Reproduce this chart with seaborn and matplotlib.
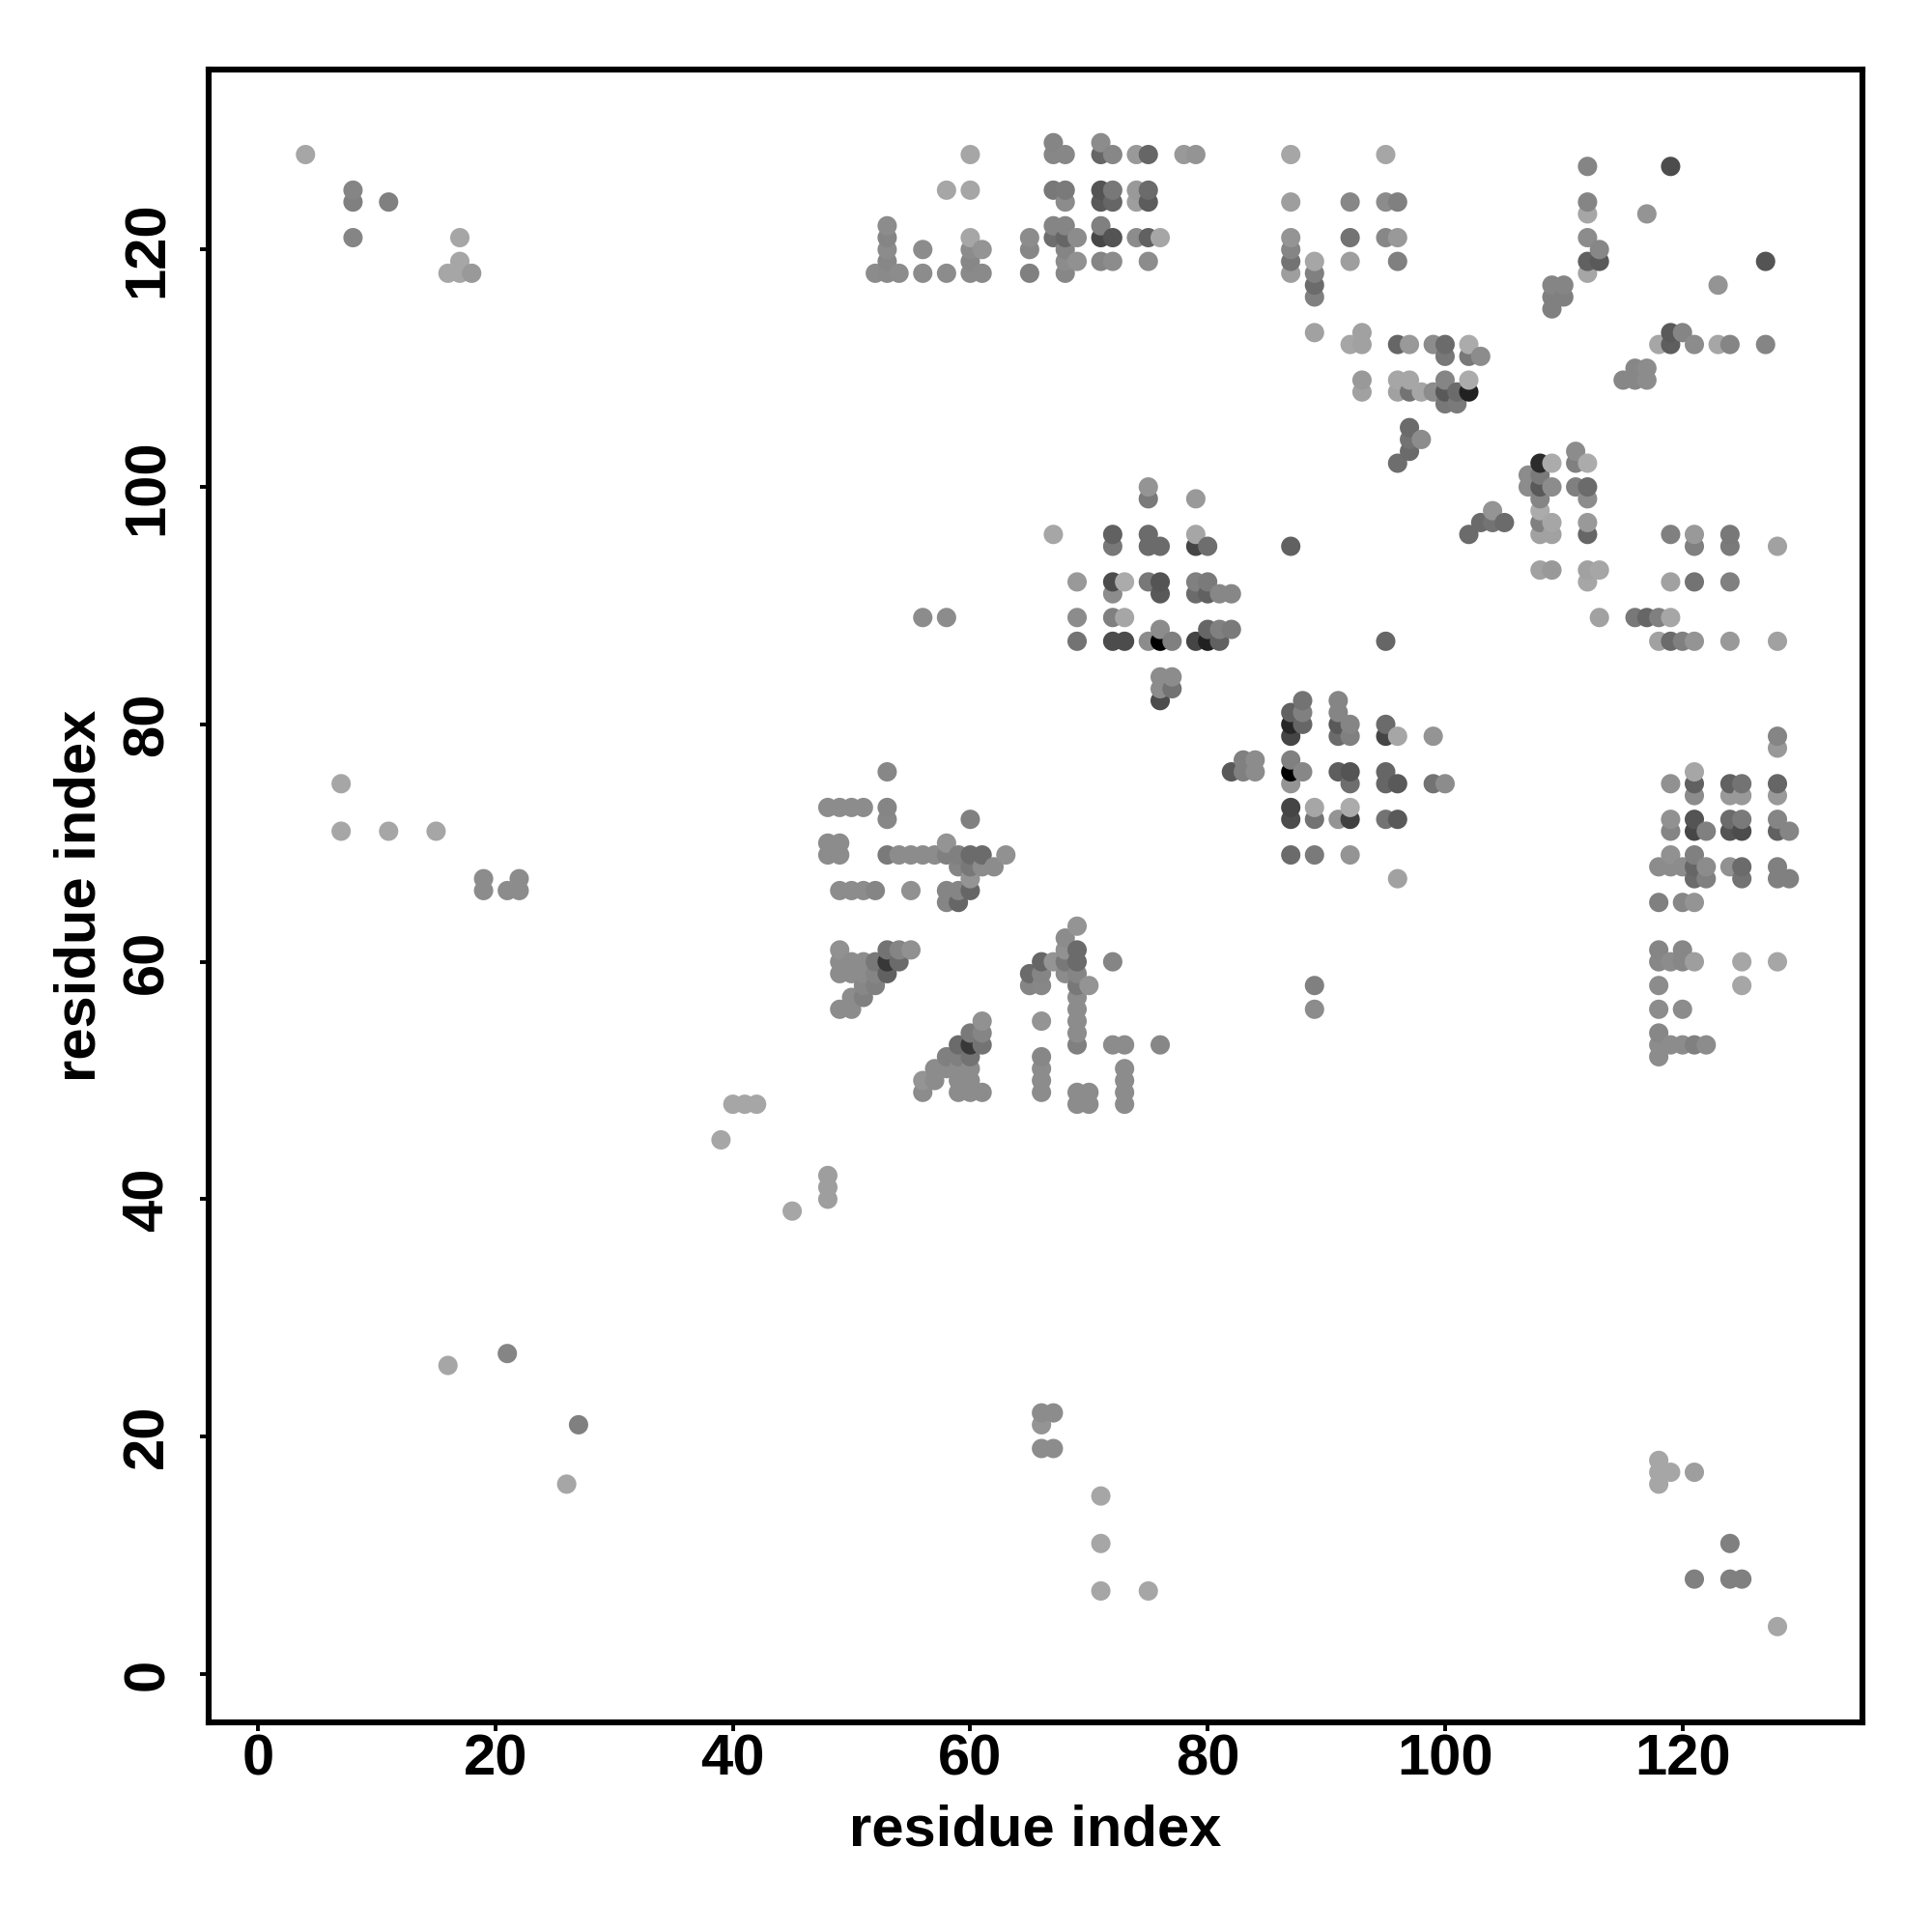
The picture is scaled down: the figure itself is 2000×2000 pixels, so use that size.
import matplotlib
matplotlib.use("Agg")
import matplotlib.pyplot as plt
import pandas as pd
import seaborn as sns

# Each tuple: residue x, residue y, grey level (0 black .. 1 white)
sparse_far = [(4,128,.65),(8,125,.52),(8,124,.5),(8,121,.52),(11,124,.5),(17,121,.65),(17,119,.65),(16,118,.65),(17,118,.65),(18,118,.6),
    (7,75,.65),(7,71,.65),(11,71,.65),(15,71,.65),(19,67,.55),(19,66,.55),(21,66,.55),(22,67,.55),(22,66,.55),
    (39,45,.65),(40,48,.65),(41,48,.65),(42,48,.65),(45,39,.65),(48,42,.62),(48,41,.62),(48,40,.62),
    (16,26,.65),(21,27,.52),(27,21,.5),(26,16,.65),(66,22,.55),(67,22,.55),(66,21,.58),(66,19,.55),(67,19,.55),
    (71,15,.65),(71,11,.65),(71,7,.65),(75,7,.65),(118,18,.65),(118,17,.65),(118,16,.65),(119,17,.65),(121,17,.62),
    (121,8,.5),(124,11,.5),(124,8,.5),(125,8,.5),(128,4,.65),(56,89,.55),(58,89,.55),(95,87,.4),(89,58,.5),(89,56,.55),
    (82,76,.35),(83,77,.5),(83,76,.5),(84,77,.55),(84,76,.55)]

top_middle = [(67,129,.52),(71,129,.55),(60,128,.65),(67,128,.53),(68,128,.53),(71,128,.4),(72,128,.53),(74,128,.6),(75,128,.4),(78,128,.6),(79,128,.58),
    (58,125,.65),(60,125,.65),(67,125,.47),(68,125,.48),(71,125,.33),(72,125,.47),(74,125,.6),(75,125,.42),
    (68,124,.55),(71,124,.35),(72,124,.4),(74,124,.62),(75,124,.36),
    (53,122,.55),(67,122,.52),(68,122,.52),(71,122,.5),
    (53,121,.52),(60,121,.65),(65,121,.55),(67,121,.43),(68,121,.4),(69,121,.55),(71,121,.28),(72,121,.33),(74,121,.55),(75,121,.38),(76,121,.65),
    (53,120,.55),(56,120,.55),(60,120,.55),(61,120,.58),(65,120,.53),(68,120,.52),
    (53,119,.53),(60,119,.53),(68,119,.55),(69,119,.57),(71,119,.52),(72,119,.55),(75,119,.55),
    (52,118,.55),(53,118,.54),(54,118,.55),(56,118,.55),(58,118,.55),(60,118,.54),(61,118,.54),(65,118,.5),(68,118,.53)]

top_right = [(87,128,.65),(87,124,.62),(87,121,.58),(87,120,.52),(87,119,.45),(87,118,.62),
    (89,119,.65),(89,118,.5),(89,117,.42),(89,116,.5),(89,113,.63),(92,124,.53),(92,121,.45),(92,119,.62),
    (95,128,.65),(95,124,.55),(95,121,.53),(96,124,.5),(96,121,.6),(96,119,.5),
    (93,113,.63),(92,112,.65),(93,112,.63),(96,112,.4),(97,112,.6),(99,112,.55),(100,112,.42),(102,112,.67),
    (100,111,.47),(102,111,.47),(103,111,.55),(93,109,.6),(96,109,.65),(97,109,.65),(100,109,.52),(102,109,.67),
    (93,108,.63),(96,108,.63),(97,108,.45),(98,108,.65),(99,108,.55),(100,108,.35),(101,108,.42),(102,108,.13),
    (100,107,.47),(101,107,.48),(97,105,.42),(97,104,.45),(98,104,.55),(97,103,.42),(96,102,.43),
    (112,127,.52),(119,127,.3),(112,124,.52),(112,123,.65),(112,121,.55),(113,120,.53),(112,119,.38),(113,119,.35),(112,118,.65),
    (117,123,.58),(127,119,.33),(123,117,.58),(109,117,.52),(109,116,.5),(109,115,.5),(110,117,.52),(110,116,.5),
    (119,113,.35),(120,113,.52),(118,112,.65),(119,112,.37),(121,112,.55),(123,112,.65),(124,112,.52),(127,112,.52),
    (116,110,.53),(117,110,.55),(115,109,.53),(116,109,.53),(117,109,.55)]

center_high = [(75,100,.58),(75,99,.48),(79,99,.6),(67,96,.65),(72,96,.38),(75,96,.42),(79,96,.65),
    (72,95,.47),(75,95,.42),(76,95,.42),(79,95,.27),(80,95,.43),(87,95,.38),
    (69,92,.6),(72,92,.3),(73,92,.67),(75,92,.47),(76,92,.33),(79,92,.5),(80,92,.48),
    (72,91,.55),(76,91,.35),(79,91,.42),(80,91,.38),(81,91,.53),(82,91,.53),
    (69,89,.55),(72,89,.5),(73,89,.65),(76,88,.55),(80,88,.4),(81,88,.5),(82,88,.48),
    (69,87,.45),(72,87,.3),(73,87,.3),(75,87,.55),(76,87,.0),(77,87,.5),(79,87,.27),(80,87,.13),(81,87,.38),
    (76,84,.55),(77,84,.55),(76,83,.55),(77,83,.45),(76,82,.3)]

right_high = [(111,103,.55),(108,102,.17),(109,102,.67),(111,102,.5),(112,102,.67),(107,101,.55),(108,101,.48),
    (107,100,.55),(108,100,.35),(109,100,.55),(111,100,.5),(112,100,.42),(108,99,.52),(112,99,.55),
    (104,98,.58),(108,98,.67),(103,97,.42),(104,97,.45),(105,97,.42),(108,97,.5),(109,97,.65),(112,97,.6),
    (102,96,.42),(108,96,.63),(109,96,.63),(112,96,.4),(119,96,.5),(121,96,.6),(124,96,.47),
    (121,95,.5),(124,95,.48),(128,95,.63),(108,93,.63),(109,93,.6),(112,93,.63),(113,93,.65),
    (112,92,.65),(119,92,.63),(121,92,.45),(124,92,.5),(113,89,.63),(116,89,.47),(117,89,.4),(118,89,.5),(119,89,.65),
    (118,87,.63),(119,87,.42),(120,87,.5),(121,87,.58),(124,87,.6),(128,87,.63)]

center_right = [(88,82,.45),(91,82,.52),(87,81,.38),(88,81,.5),(91,81,.52),(87,80,.15),(88,80,.4),(91,80,.35),(92,80,.52),(95,80,.42),
    (87,79,.27),(91,79,.42),(92,79,.5),(95,79,.27),(96,79,.65),(99,79,.58),(87,77,.5),
    (87,76,.0),(88,76,.53),(91,76,.37),(92,76,.33),(95,76,.4),(87,75,.58),(92,75,.43),(95,75,.4),(96,75,.35),(99,75,.45),(100,75,.55),
    (87,73,.27),(89,73,.65),(92,73,.67),(87,72,.3),(89,72,.45),(91,72,.58),(92,72,.25),(95,72,.45),(96,72,.35),
    (87,69,.42),(89,69,.48),(92,69,.58),(96,67,.63)]

far_right = [(128,79,.52),(128,78,.6),(121,76,.65),(119,75,.57),(121,75,.38),(124,75,.38),(125,75,.45),(128,75,.4),
    (121,74,.55),(124,74,.6),(125,74,.6),(128,74,.6),(119,72,.57),(121,72,.33),(124,72,.42),(125,72,.48),(128,72,.52),
    (119,71,.52),(121,71,.28),(122,71,.5),(124,71,.33),(125,71,.3),(128,71,.38),(129,71,.52),(119,69,.57),(121,69,.5),
    (118,68,.55),(119,68,.55),(120,68,.55),(121,68,.4),(122,68,.55),(124,68,.57),(125,68,.42),(128,68,.5),
    (121,67,.42),(122,67,.5),(125,67,.45),(128,67,.5),(129,67,.5),(118,65,.5),(120,65,.53),(121,65,.58),
    (118,61,.52),(120,61,.53),(118,60,.53),(119,60,.55),(120,60,.53),(121,60,.62),(125,60,.65),(128,60,.65),
    (118,58,.55),(125,58,.65),(118,56,.55),(120,56,.55),(118,54,.53),(118,53,.55),(119,53,.55),(120,53,.55),(121,53,.5),(122,53,.55),(118,52,.55)]

mid_upper = [(53,76,.53),(48,73,.55),(49,73,.55),(50,73,.55),(51,73,.55),(53,73,.52),(53,72,.53),(60,72,.5),(48,70,.55),(49,70,.55),(58,70,.58),
    (48,69,.55),(49,69,.55),(53,69,.48),(54,69,.55),(55,69,.55),(56,69,.55),(57,69,.55),(58,69,.5),(59,69,.5),(60,69,.42),(61,69,.42),(63,69,.57),
    (59,68,.52),(60,68,.47),(61,68,.55),(62,68,.55),(60,67,.58),(49,66,.55),(50,66,.55),(51,66,.55),(52,66,.52),(55,66,.57),(58,66,.52),(59,66,.52),(60,66,.4),(58,65,.52),(59,65,.4)]

mid_lower = [(49,61,.57),(53,61,.45),(54,61,.52),(55,61,.57),(49,60,.55),(50,60,.55),(51,60,.55),(52,60,.47),(53,60,.22),(54,60,.42),
    (49,59,.55),(50,59,.55),(51,59,.55),(52,59,.52),(53,59,.38),(51,58,.53),(52,58,.5),(50,57,.55),(51,57,.5),(49,56,.55),(50,56,.55),
    (61,55,.57),(60,54,.48),(61,54,.52),(59,53,.42),(60,53,.22),(61,53,.45),(58,52,.5),(59,52,.5),(60,52,.45),
    (57,51,.55),(58,51,.55),(59,51,.55),(60,51,.55),(56,50,.58),(57,50,.55),(59,50,.55),(60,50,.55),(56,49,.55),(59,49,.55),(60,49,.55),(61,49,.55),
    (69,63,.58),(68,62,.55),(68,61,.57),(69,61,.42),(66,60,.4),(67,60,.58),(68,60,.47),(69,60,.42),(72,60,.52),
    (65,59,.42),(66,59,.52),(68,59,.55),(69,59,.52),(65,58,.52),(66,58,.53),(69,58,.47),(70,58,.58),(69,57,.55),(69,56,.55),(69,55,.55),(69,54,.55),
    (69,53,.5),(72,53,.55),(73,53,.55),(76,53,.53),(66,55,.58),(66,52,.53),(66,51,.55),(73,51,.55),(66,50,.55),(73,50,.55),
    (66,49,.55),(69,49,.55),(70,49,.55),(73,49,.55),(69,48,.55),(70,48,.55),(73,48,.55)]

tick_values = [0, 20, 40, 60, 80, 100, 120]
axis_label = "residue index"
x_limits = (-4.16, 135.16)
y_limits = (-4.07, 135.16)

points = sparse_far + top_middle + top_right + center_high + right_high + center_right + far_right + mid_upper + mid_lower
df = pd.DataFrame(points, columns=["x", "y", "grey"]).sort_values(["x", "y"])

sns.set_style("white")
plt.rcParams["font.family"] = ["Liberation Sans", "DejaVu Sans"]
plt.rcParams["font.weight"] = "bold"
plt.rcParams["text.color"] = "black"

fig = plt.figure(figsize=(10, 10), dpi=200)
ax = fig.add_axes([216/2000, 217/2000, 1712/2000, 1711/2000])
sns.scatterplot(data=df, x="x", y="y", hue="grey", palette="gray", hue_norm=(0, 1),
                s=52, linewidth=0, alpha=1, legend=False, ax=ax)
ax.set_xlim(*x_limits)
ax.set_ylim(*y_limits)
ax.set_xticks(tick_values)
ax.set_yticks(tick_values)
ax.tick_params(axis="both", length=3.2, width=1.4, color="black", labelcolor="black",
               labelsize=21.5, bottom=True, left=True)
ax.tick_params(axis="x", pad=1)
ax.tick_params(axis="y", pad=9.5)
for lab in ax.get_yticklabels():
    lab.set_rotation(90)
    lab.set_va("center")
for lab in ax.get_xticklabels() + ax.get_yticklabels():
    lab.set_fontweight("bold")
for sp in ax.spines.values():
    sp.set_visible(True)
    sp.set_color("black")
    sp.set_linewidth(2.2)
ax.set_xlabel("")
ax.set_ylabel("")
fig.text(1072/2000, 1-1895/2000, axis_label, ha="center", va="center", color="black", fontsize=21.5, fontweight="bold")
fig.text(83/2000, 1-927/2000, axis_label, ha="center", va="center", rotation=90, color="black", fontsize=21.5, fontweight="bold")
fig.savefig("out.png", dpi=200, facecolor="white")
